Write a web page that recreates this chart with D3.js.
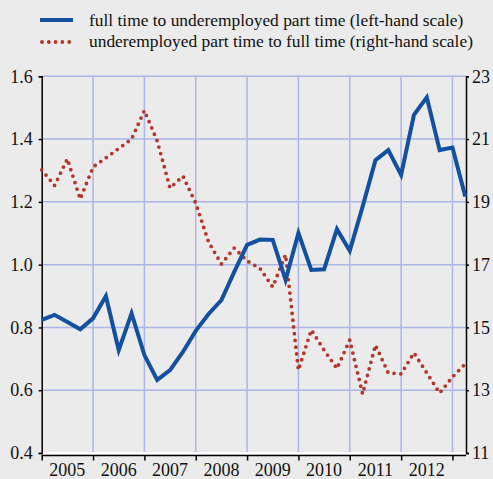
<!DOCTYPE html>
<html>
<head>
<meta charset="utf-8">
<script src="https://cdn.jsdelivr.net/npm/d3@7"></script>
<style>
  body { margin: 0; background: #ebebeb; }
  svg { display: block; }
  text { font-family: "Liberation Serif", "Times New Roman", Times, serif; fill: #111; }
</style>
</head>
<body>
<svg id="chart"></svg>
<script>

var quarters = ["2005Q1","2005Q2","2005Q3","2005Q4","2006Q1","2006Q2","2006Q3","2006Q4",
                "2007Q1","2007Q2","2007Q3","2007Q4","2008Q1","2008Q2","2008Q3","2008Q4",
                "2009Q1","2009Q2","2009Q3","2009Q4","2010Q1","2010Q2","2010Q3","2010Q4",
                "2011Q1","2011Q2","2011Q3","2011Q4","2012Q1","2012Q2","2012Q3","2012Q4",
                "2013Q1","2013Q2"]

// full time to underemployed part time (left-hand scale)
var fullToPart = [0.824, 0.840, 0.817, 0.794, 0.829, 0.900, 0.728, 0.845,
                  0.712, 0.633, 0.664, 0.722, 0.789, 0.843, 0.887, 0.977,
                  1.063, 1.080, 1.079, 0.951, 1.101, 0.983, 0.985, 1.113,
                  1.044, 1.185, 1.333, 1.365, 1.286, 1.477, 1.533, 1.365,
                  1.373, 1.217]

// underemployed part time to full time (right-hand scale)
var partToFull = [20.02, 19.52, 20.37, 19.09, 20.11, 20.40, 20.70, 21.00,
                  21.91, 20.94, 19.44, 19.82, 18.96, 17.72, 17.02, 17.53,
                  17.12, 16.88, 16.29, 17.32, 13.64, 14.92, 14.28, 13.69,
                  14.60, 12.88, 14.44, 13.55, 13.52, 14.19, 13.55, 12.91,
                  13.42, 13.84]

var years = [2005, 2006, 2007, 2008, 2009, 2010, 2011, 2012, 2013]
var yearLabels = ["2005", "2006", "2007", "2008", "2009", "2010", "2011", "2012"]
var leftTicks = [0.4, 0.6, 0.8, 1.0, 1.2, 1.4, 1.6]
var rightTicks = [11, 13, 15, 17, 19, 21, 23]

var seriesNames = ["full time to underemployed part time (left-hand scale)",
                   "underemployed part time to full time (right-hand scale)"]

var width = 493, height = 479
var blue = "#1450a0", red = "#b5352b", grid = "#aab6e6"
var fontSize = "18px"

function qToYear(q) {
    return +q.slice(0, 4) + (+q.slice(5) - 1) / 4
}

var svg = d3.select("#chart")
    .attr("width", width)
    .attr("height", height)

var xScale = d3.scaleLinear()
    .domain([2005, 2013.25])
    .range([41.7, 465.3])

var yLeft = d3.scaleLinear()
    .domain([0.4, 1.6])
    .range([453, 76.3])

var yRight = d3.scaleLinear()
    .domain([11, 23])
    .range([453, 76.3])

// gridlines
svg.append("g").selectAll("line")
    .data(leftTicks.slice(1))
    .join("line")
    .attr("x1", xScale(2005)).attr("x2", 466)
    .attr("y1", d => yLeft(d)).attr("y2", d => yLeft(d))
    .attr("stroke", grid).attr("stroke-width", 1.5)

svg.append("g").selectAll("line")
    .data(years.slice(1))
    .join("line")
    .attr("x1", d => xScale(d)).attr("x2", d => xScale(d))
    .attr("y1", yLeft(1.6)).attr("y2", yLeft(0.4))
    .attr("stroke", grid).attr("stroke-width", 1.5)

// white base of the plot
svg.append("line")
    .attr("x1", xScale(2005)).attr("x2", 466)
    .attr("y1", 453).attr("y2", 453)
    .attr("stroke", "#fff").attr("stroke-width", 2)

// axes
var leftAxis = d3.axisLeft(yLeft)
    .tickValues(leftTicks)
    .tickFormat(d3.format(".1f"))
    .tickSize(3)
    .tickPadding(6)

var rightAxis = d3.axisRight(yRight)
    .tickValues(rightTicks)
    .tickSize(3)
    .tickPadding(3)

var bottomAxis = d3.axisBottom(xScale)
    .tickValues(years)
    .tickFormat("")
    .tickSize(5)
    .tickSizeOuter(0)

function styleAxis(g) {
    g.selectAll(".domain").attr("stroke", "#000").attr("stroke-width", 1.5)
    g.selectAll(".tick line").attr("stroke", "#000").attr("stroke-width", 1.5)
    g.selectAll("text").style("font-size", fontSize)
        .style("font-family", "'Liberation Serif', 'Times New Roman', Times, serif")
        .attr("fill", "#111")
}

svg.append("g")
    .attr("transform", "translate(" + xScale(2005) + ",0)")
    .call(leftAxis)
    .call(styleAxis)

svg.append("g")
    .attr("transform", "translate(466,0)")
    .call(rightAxis)
    .call(styleAxis)

svg.append("g")
    .attr("transform", "translate(0,455.5)")
    .call(bottomAxis)
    .call(styleAxis)
    .select(".domain").attr("d", "M" + xScale(2005) + ",0H466")

svg.append("g").selectAll("text")
    .data(yearLabels)
    .join("text")
    .attr("x", d => xScale(+d + 0.5))
    .attr("y", 476)
    .attr("text-anchor", "middle")
    .style("font-size", fontSize)
    .text(d => d)

// lines
var lineLeft = d3.line()
    .x((d, i) => xScale(qToYear(quarters[i])))
    .y(d => yLeft(d))

var lineRight = d3.line()
    .x((d, i) => xScale(qToYear(quarters[i])))
    .y(d => yRight(d))

svg.append("path")
    .datum(partToFull)
    .attr("d", lineRight)
    .attr("fill", "none")
    .attr("stroke", red)
    .attr("stroke-width", 3.8)
    .attr("stroke-linecap", "round")
    .attr("stroke-dasharray", "0,6.8")

svg.append("path")
    .datum(fullToPart)
    .attr("d", lineLeft)
    .attr("fill", "none")
    .attr("stroke", blue)
    .attr("stroke-width", 4)
    .attr("stroke-linejoin", "miter")

// legend
var legend = svg.append("g")

legend.append("line")
    .attr("x1", 40).attr("x2", 73).attr("y1", 20).attr("y2", 20)
    .attr("stroke", blue).attr("stroke-width", 4)

legend.append("line")
    .attr("x1", 42).attr("x2", 74).attr("y1", 42).attr("y2", 42)
    .attr("stroke", red).attr("stroke-width", 3.8)
    .attr("stroke-linecap", "round")
    .attr("stroke-dasharray", "0,6.8")

legend.selectAll("text")
    .data(seriesNames)
    .join("text")
    .attr("x", 89)
    .attr("y", (d, i) => 26 + i * 21)
    .style("font-size", "17.4px")
    .text(d => d)

</script>
</body>
</html>
